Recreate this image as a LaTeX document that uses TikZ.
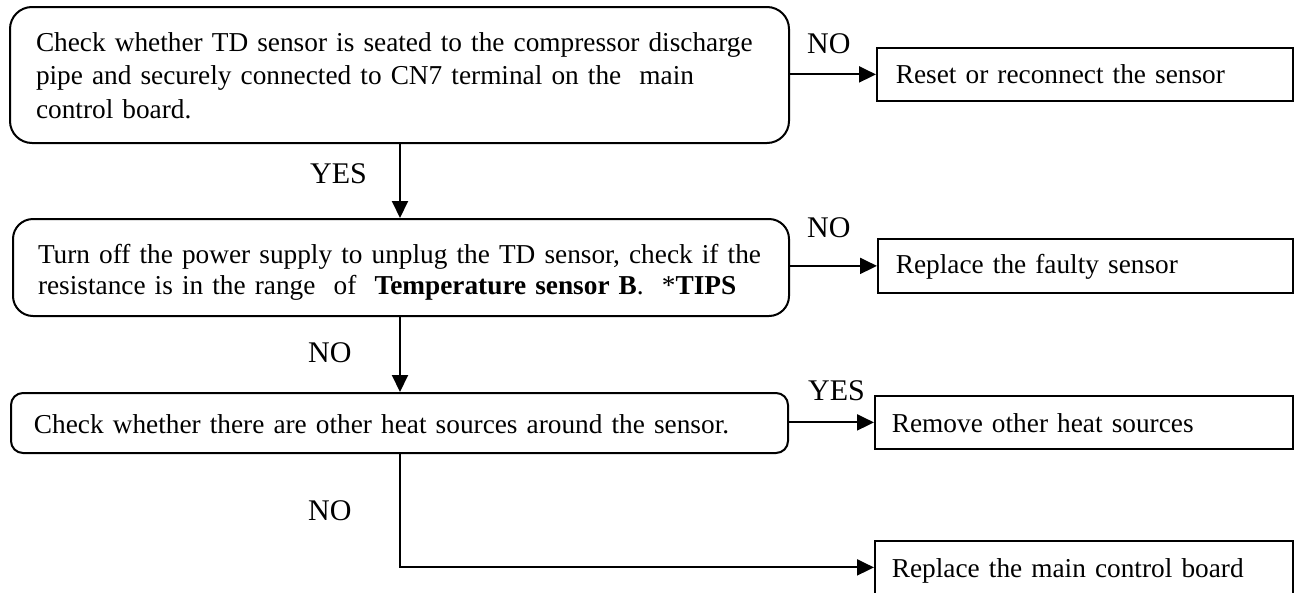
\documentclass[tikz,border=0pt]{standalone}
\usepackage{fontspec}
\setmainfont{Liberation Serif}
\usetikzlibrary{arrows.meta,calc}
\begin{document}
\begin{tikzpicture}[x=1pt,y=-1pt,
  every node/.style={font=\fontsize{27.3}{33.5}\selectfont},
  rbox/.style={draw,line width=2pt,anchor=north west,align=left,inner ysep=0pt},
  sbox/.style={draw,line width=1.8pt,anchor=north west,align=left,inner ysep=0pt},
  lab/.style={anchor=base west,inner sep=0pt,font=\fontsize{30}{34}\selectfont},
  arr/.style={line width=2pt,-{Triangle[length=17pt,width=16pt]}}]
\useasboundingbox (0,0) rectangle (1299,592);
% main column
\node[rbox,rounded corners=22pt,inner xsep=26pt,text width=727pt,text height=44pt,text depth=92pt] (b1) at (9,6)
  {\mbox{Check whether TD sensor is seated to the compressor discharge}\\\mbox{pipe and securely connected to CN7 terminal on the\ \ main}\\\mbox{control board.}};
\node[rbox,rounded corners=20pt,inner xsep=25pt,text width=726pt,text height=44pt,text depth=53pt,font=\fontsize{27.3}{31}\selectfont] (b2) at (12,218)
  {\mbox{Turn off the power supply to unplug the TD sensor, check if the}\\\mbox{resistance is in the range\ \ of\ \ \textbf{Temperature sensor B}.\ \ *\textbf{TIPS}}};
\node[rbox,rounded corners=12pt,inner xsep=23pt,text width=731pt,text height=40pt,text depth=20pt] (b3) at (10,392)
  {\mbox{Check whether there are other heat sources around the sensor.}};
% right column
\node[sbox,inner xsep=19pt,text width=378pt,text height=36pt,text depth=17pt] (r1) at (876,47) {\mbox{Reset or reconnect the sensor}};
\node[sbox,inner xsep=18pt,text width=379pt,text height=35pt,text depth=19pt] (r2) at (877,238) {\mbox{Replace the faulty sensor}};
\node[sbox,inner xsep=17pt,text width=384pt,text height=37pt,text depth=16pt] (r3) at (874,395) {\mbox{Remove other heat sources}};
\node[sbox,inner xsep=17pt,text width=384pt,text height=37pt,text depth=16pt] (r4) at (874,540) {\mbox{Replace the main control board}};
% labels
\node[lab] (l1) at (310,183) {YES};
\node[lab] (l2) at (308,362) {NO};
\node[lab] (l3) at (308,520) {NO};
\node[lab] (l4) at (807,53) {NO};
\node[lab] (l5) at (807,237) {NO};
\node[lab] (l6) at (808,400) {YES};
% connectors
\coordinate (c1) at ($(b1.south)+(0.5,0)$);
\draw[arr] (c1) -- (c1 |- b2.north);
\coordinate (c2) at ($(b2.south)+(-1,0)$);
\draw[arr] (c2) -- (c2 |- b3.north);
\coordinate (c3) at ($(b3.south)+(0.5,0)$);
\draw[arr] (c3) |- (r4.west);
\draw[arr] (r1.west -| b1.east) -- (r1.west);
\draw[arr] (r2.west -| b2.east) -- (r2.west);
\draw[arr] (r3.west -| b3.east) -- (r3.west);
\end{tikzpicture}
\end{document}
